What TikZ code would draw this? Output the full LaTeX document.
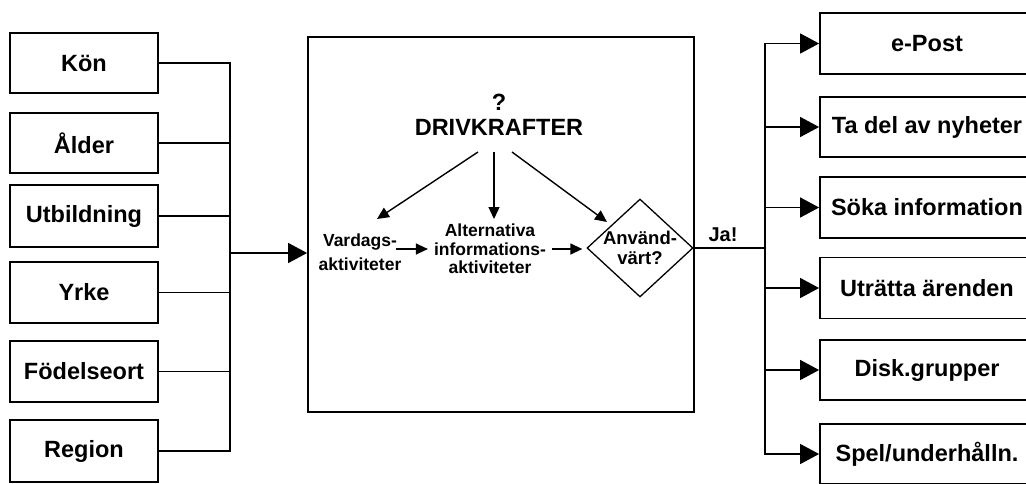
\documentclass[tikz,border=0pt]{standalone}
\usepackage{fontspec}
\setmainfont{Liberation Sans}
\usetikzlibrary{arrows.meta,shapes.geometric,calc}
\begin{document}
\begin{tikzpicture}[x=1pt,y=-1pt,
  box/.style={draw, line width=1.8pt, minimum width=148pt, inner sep=0pt,
    font=\bfseries\fontsize{23.5}{26}\selectfont},
  rbox/.style={box, minimum width=214pt},
  conn/.style={line width=1.4pt},
  big/.style={-{Triangle[length=19pt,width=20pt]}},
  small/.style={-{Triangle[length=12pt,width=11pt]}},
  lbl/.style={font=\bfseries\fontsize{17.5}{18.5}\selectfont, align=center, inner sep=0pt}]
\useasboundingbox (0,0) rectangle (1026,483);
\clip (0,0) rectangle (1026,483);

% left boxes
\node[box, minimum height=60pt] (kon)  at (84,63)    {Kön};
\node[box, minimum height=60pt] (alder) at (84,143)  {Ålder};
\node[box, minimum height=62pt] (utb)  at (84,216)   {Utbildning};
\node[box, minimum height=61pt] (yrke) at (84,292.5) {Yrke};
\node[box, minimum height=61pt] (fod)  at (84,371.5) {Födelseort};
\node[box, minimum height=62pt] (reg)  at (84,451)   {Region};

% main box
\node[draw, line width=1.8pt, minimum width=386pt, minimum height=375pt, inner sep=0pt] (main) at (501,224.5) {};

\coordinate (bl) at (230,253);
\foreach \n in {kon,alder,utb,yrke,fod,reg}
  \draw[conn] (\n.east) -| (bl);
\draw[conn, big] (bl) -- (bl -| main.west);

% inside
\node[inner sep=0pt, font=\bfseries\fontsize{23.5}{26}\selectfont] (q) at (499,102) {?};
\node[inner sep=0pt, font=\bfseries\fontsize{23.5}{26}\selectfont] (drv) at (499,127) {DRIVKRAFTER};

\node[lbl, font=\bfseries\fontsize{17.5}{24}\selectfont] (vard) at (360,252) {Vardags-\\aktiviteter};
\node[lbl] (alt) at (490,249) {Alternativa\\informations-\\aktiviteter};
\node[draw, diamond, line width=1.3pt, minimum width=106pt, minimum height=98pt, inner sep=0pt] (dia) at (640,248) {};
\node[lbl, font=\bfseries\fontsize{18.5}{20}\selectfont] (diat) at (dia.center) {Använd-\\värt?};

\draw[conn, small] ($(drv.center)+(-21,25)$) -- ($(vard.center)+(17,-33)$);
\draw[conn, small] ($(drv.center)+(-5,25)$) -- ($(alt.center)+(4,-30)$);
\draw[conn, small] ($(drv.center)+(13,25)$) -- ($(dia.center)+(-33,-26)$);
\draw[conn, small] ($(vard.east)+(-6,-3)$) -- ($(alt.west)+(-6,0)$);
\draw[conn, small] ($(alt.east)+(6,0)$) -- ($(dia.west)+(-4,1)$);

% right side
\node[inner sep=0pt, font=\bfseries\fontsize{20}{22}\selectfont] (ja) at (723,235) {Ja!};
\coordinate (br) at (765,248);
\draw[conn] (dia.east) -- (br);

\node[rbox, minimum height=61pt] (epost) at (927,43.5) {e-Post};
\node[rbox, minimum height=60pt] (nyh)   at (927,127)  {Ta del av nyheter};
\node[rbox, minimum height=61pt] (soka)  at (927,207.5){Söka information};
\node[rbox, minimum height=61pt] (utr)   at (927,288)  {Uträtta ärenden};
\node[rbox, minimum height=60pt] (disk)  at (927,370)  {Disk.grupper};
\node[rbox, minimum height=60pt] (spel)  at (927,454)  {Spel/underhålln.};

\foreach \n in {epost,nyh,soka,utr,disk,spel}
  \draw[conn, big] (br) |- (\n.west);
\end{tikzpicture}
\end{document}
